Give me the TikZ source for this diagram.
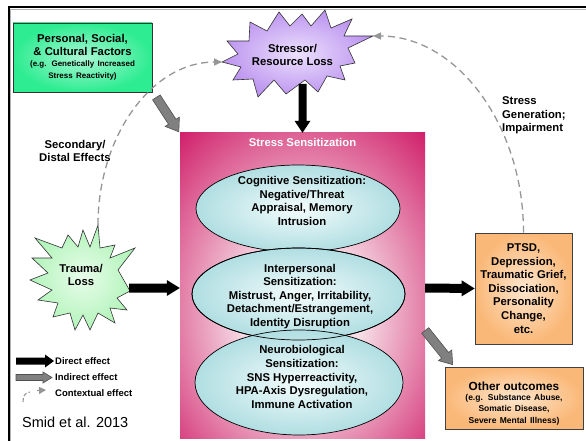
\documentclass[tikz,border=0pt]{standalone}
\usepackage{fontspec}
\setmainfont{Liberation Sans}
\usetikzlibrary{calc,arrows.meta,shapes.geometric}
\definecolor{pinkOut}{RGB}{205,15,95}
\definecolor{pinkIn}{RGB}{246,222,230}
\definecolor{tealOut}{RGB}{176,222,226}
\definecolor{tealIn}{RGB}{244,252,252}
\definecolor{grnOut}{RGB}{45,236,145}
\definecolor{grnIn}{RGB}{170,248,212}
\definecolor{orgOut}{RGB}{250,184,120}
\definecolor{orgIn}{RGB}{254,230,205}
\definecolor{purOut}{RGB}{188,148,240}
\definecolor{purIn}{RGB}{236,224,252}
\definecolor{lgrOut}{RGB}{178,244,186}
\definecolor{lgrIn}{RGB}{232,252,234}
\definecolor{arrGray}{RGB}{128,128,128}
\definecolor{arrEdge}{RGB}{80,80,80}
\definecolor{ctxGray}{RGB}{150,150,150}
\pgfdeclareradialshading{pinkshade}{\pgfpoint{0bp}{-6bp}}{color(0bp)=(pinkIn); color(12bp)=(pinkIn); color(40bp)=(pinkOut); color(80bp)=(pinkOut)}
% block arrow: style, from, to, half shaft, half head, head length
\newcommand{\blockarrow}[6]{%
  \coordinate (baH) at ($(#3)!#6!(#2)$);
  \path[#1] ($(#2)!#4!90:(#3)$) -- ($(baH)!#4!-90:(#2)$) -- ($(baH)!#5!-90:(#2)$) -- (#3)
    -- ($(baH)!#5!90:(#2)$) -- ($(baH)!#4!90:(#2)$) -- ($(#2)!#4!-90:(#3)$) -- cycle;}
\tikzset{
  mtxt/.style={inner sep=0pt, align=center, font=\fontsize{11.3}{13.6}\selectfont\bfseries},
  legtxt/.style={inner sep=0pt, anchor=west, font=\fontsize{9.5}{11}\selectfont\bfseries},
  ell/.style={ellipse, draw=black, line width=.7pt, shade, inner color=tealIn, outer color=tealOut, inner sep=0pt},
  obox/.style={rectangle, draw=black!75, line width=.7pt, shade, inner color=orgIn, outer color=orgOut, inner sep=0pt, align=center},
  starline/.style={draw=black!80, line width=.6pt, shade},
  ctx/.style={draw=ctxGray, line width=1.3pt, dash pattern=on 7pt off 4.5pt},
  direct/.style={fill=black},
  indirect/.style={fill=arrGray, draw=arrEdge, line width=.6pt}
}
\begin{document}
\begin{tikzpicture}[x=1pt,y=-1pt]
\useasboundingbox (0,0) rectangle (586,441);
\fill[white] (0,0) rectangle (586,441);
% frame
\draw[black!30, line width=.8pt] (586,9.8) -- (10.8,9.8) -- (10.8,441);
\draw[line width=2pt] (9,441) -- (9,7.5) -- (586,7.5);

% personal box
\node[rectangle, draw=black!80, line width=.7pt, shade, inner color=grnIn, outer color=grnOut,
  minimum width=139pt, minimum height=69pt, text width=137pt, align=center, inner sep=0pt] (pers) at (82.5,57.5)
  {\fontsize{11.3}{13}\selectfont\bfseries Personal, Social,\\ \& Cultural Factors\par
   \fontsize{8}{11}\selectfont (e.g. Genetically Increased\\ Stress Reactivity)};

% stress sensitization box
\node[rectangle, shade, shading=pinkshade, minimum width=245pt, minimum height=305pt, inner sep=0pt] (sens) at (302.5,285.5) {};
\node[mtxt, text=white] (senstitle) at (302.5,142) {Stress Sensitization};

% ellipses
\node[ell, minimum width=204pt, minimum height=87pt] (e1) at (298,208.5) {};
\node[ell, minimum width=213pt, minimum height=92pt] (e2) at (298.5,294) {};
\node[ell, minimum width=208pt, minimum height=105pt] (e3) at (299,382.5) {};
\draw[black, line width=.7pt] (e2.center) ellipse [x radius=106.5pt, y radius=46pt];
\node[mtxt] (t1) at (302,201) {Cognitive Sensitization:\\ Negative/Threat\\ Appraisal, Memory\\ Intrusion};
\node[mtxt] (t2) at (300,296.3) {Interpersonal\\ Sensitization:\\ Mistrust, Anger, Irritability,\\ Detachment/Estrangement,\\ Identity Disruption};
\node[mtxt] (t3) at (302,377) {Neurobiological\\ Sensitization:\\ SNS Hyperreactivity,\\ HPA-Axis Dysregulation,\\ Immune Activation};

% stressor star
\draw[starline, inner color=purIn, outer color=purOut]
  (325,10) -- (331,28) -- (352,19) -- (344,36) -- (373,36) -- (348,48) -- (355,63) -- (340,66)
  -- (345,80) -- (327,76) -- (318,92) -- (305,80) -- (286,94) -- (274,80) -- (258,97) -- (253,79)
  -- (233,80) -- (241,67) -- (222,62) -- (238,54) -- (227,41) -- (249,41) -- (250,22) -- (267,31)
  -- (279,12) -- (290,26) -- (302,14) -- (311,26) -- cycle;
\node[mtxt] (stressor) at (292.5,55) {Stressor/\\ Resource Loss};
\coordinate (stressorL) at (222,62);
\coordinate (stressorR) at (373,36);

% trauma star
\draw[starline, inner color=lgrIn, outer color=lgrOut]
  (98,225) -- (100,248) -- (115,245) -- (110,258) -- (135,248) -- (118,270) -- (130,291) -- (117,298)
  -- (127,310) -- (110,308) -- (115,323) -- (98,313) -- (90,330) -- (83,315) -- (75,330) -- (70,313)
  -- (53,317) -- (58,303) -- (38,300) -- (52,290) -- (30,280) -- (48,273) -- (32,258) -- (52,258)
  -- (35,238) -- (62,248) -- (68,235) -- (78,247) -- (83,230) -- (90,247) -- cycle;
\node[mtxt] (trauma) at (81,275) {Trauma/\\ Loss};
\coordinate (traumaT) at (98,225);

% outcome boxes
\node[obox, minimum width=97pt, minimum height=111pt, font=\fontsize{11.3}{13.6}\selectfont\bfseries] (ptsd) at (523.5,288.5)
  {PTSD,\\ Depression,\\ Traumatic Grief,\\ Dissociation,\\ Personality\\ Change,\\ etc.};
\node[obox, minimum width=138pt, minimum height=62pt] (other) at (514,398) {};
\node[inner sep=0pt, text width=136pt, align=center] (othertxt) at (514,403.5)
  {\fontsize{11.8}{13}\selectfont\bfseries Other outcomes\par
   \fontsize{8.5}{10.6}\selectfont (e.g. Substance Abuse,\\ Somatic Disease,\\ Severe Mental Illness)};

% labels
\node[mtxt] (seclbl) at (75,151) {Secondary/\\ Distal Effects};
\node[mtxt, anchor=west, align=left] (genlbl) at (502,115.5) {Stress\\ Generation;\\ Impairment};

% contextual (dashed) effects
\draw[ctx, -{Triangle[length=8pt,width=7pt,fill=ctxGray]}] (traumaT) .. controls (98,136) and (152,62) .. (stressorL);
\draw[ctx, -{Triangle[length=8pt,width=7pt,fill=ctxGray]}] (ptsd.north) .. controls (523.5,124) and (456,36) .. (stressorR);

% direct effects
\coordinate (a1) at ($(stressor.center)+(10,29)$);
\blockarrow{direct}{a1}{sens.north}{4pt}{8pt}{12pt}
\coordinate (a2) at ($(trauma.center)+(48,13)$);
\coordinate (b2) at ($(sens.west)+(0,2.5)$);
\blockarrow{direct}{a2}{b2}{4.5pt}{8pt}{13pt}
\coordinate (a3) at ($(sens.east)+(0,2.5)$);
\blockarrow{direct}{a3}{ptsd.west}{4.5pt}{8pt}{13pt}

% indirect effects
\coordinate (a4) at ($(pers.south east)+(4,5)$);
\coordinate (b4) at ($(sens.north west)+(-1,-1)$);
\blockarrow{indirect}{a4}{b4}{4.5pt}{8.5pt}{12pt}
\coordinate (a5) at ($(sens.east)+(0,45)$);
\coordinate (b5) at ($(other.north west)+(8,-2)$);
\blockarrow{indirect}{a5}{b5}{4.5pt}{8.5pt}{12pt}

% legend
\coordinate (l1a) at (16,361);
\coordinate (l1b) at (54,361);
\blockarrow{direct}{l1a}{l1b}{3.5pt}{6.5pt}{9pt}
\coordinate (l2a) at (16,377.5);
\coordinate (l2b) at (52,377.5);
\blockarrow{indirect}{l2a}{l2b}{3pt}{5.5pt}{9pt}
\draw[ctx, line width=1.1pt, dash pattern=on 4pt off 2pt] (23,402) .. controls (23,396) and (25,392.5) .. (30,392);
\coordinate (l3a) at (37,390.5);
\coordinate (l3b) at (46,390);
\draw[ctx, line width=1.1pt, -{Triangle[length=7pt,width=7pt,fill=ctxGray]}] (l3a) -- (l3b);
\node[legtxt] (lg1) at (55,361) {Direct effect};
\node[legtxt] (lg2) at (55,377.5) {Indirect effect};
\node[legtxt] (lg3) at (55,393) {Contextual effect};
\node[inner sep=0pt, anchor=west, font=\fontsize{14.5}{17}\selectfont] (cite) at (22,422) {Smid et al. 2013};
\end{tikzpicture}
\end{document}
